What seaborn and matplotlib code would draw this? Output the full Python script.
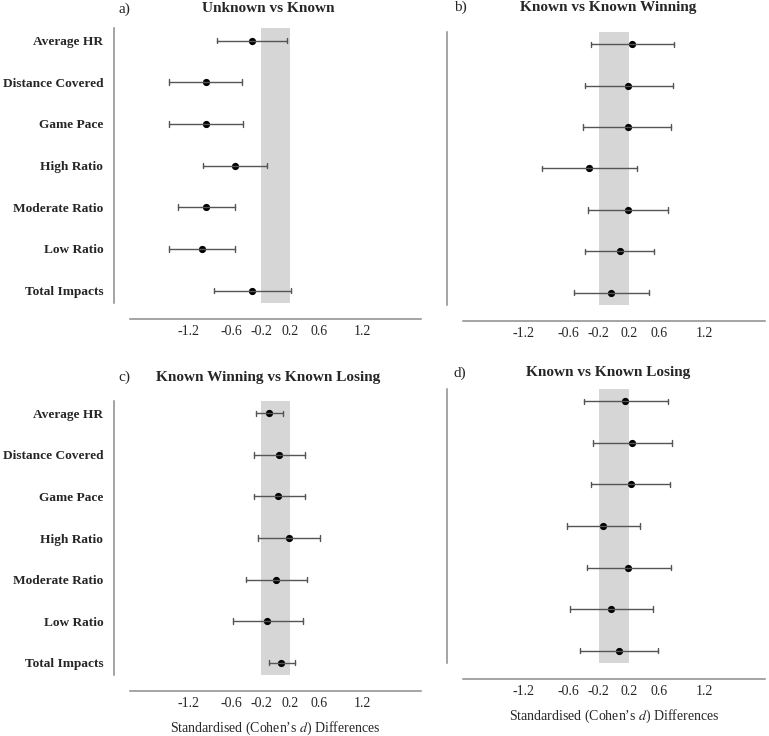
import pandas as pd
import matplotlib.pyplot as plt
import seaborn as sns

sns.set_style("white")
plt.rcParams['font.family'] = ['Liberation Serif', 'DejaVu Serif']
plt.rcParams['mathtext.fontset'] = 'stix'

features = ['Average HR', 'Distance Covered', 'Game Pace', 'High Ratio',
            'Moderate Ratio', 'Low Ratio', 'Total Impacts']

# Cohen's d with 95% CI
a_est = [-0.32, -0.96, -0.96, -0.56, -0.95, -1.01, -0.32]
a_lo = [-0.80, -1.47, -1.46, -0.99, -1.34, -1.47, -0.84]
a_hi = [0.16, -0.46, -0.45, -0.12, -0.56, -0.56, 0.21]

b_est = [0.24, 0.19, 0.18, -0.33, 0.19, 0.08, -0.04]
b_lo = [-0.31, -0.39, -0.41, -0.95, -0.34, -0.38, -0.53]
b_hi = [0.80, 0.78, 0.76, 0.30, 0.71, 0.53, 0.47]

c_est = [-0.09, 0.05, 0.04, 0.19, 0.01, -0.11, 0.08]
c_lo = [-0.27, -0.30, -0.30, -0.24, -0.41, -0.59, -0.09]
c_hi = [0.10, 0.40, 0.40, 0.61, 0.43, 0.38, 0.27]

d_est = [0.15, 0.24, 0.22, -0.14, 0.19, -0.04, 0.06]
d_lo = [-0.40, -0.28, -0.30, -0.62, -0.36, -0.58, -0.45]
d_hi = [0.72, 0.77, 0.74, 0.34, 0.76, 0.52, 0.58]

x_ticks = [-1.2, -0.6, -0.2, 0.2, 0.6, 1.2]

panels = [
    ('a)', 'Unknown vs Known', a_est, a_lo, a_hi),
    ('b)', 'Known vs Known Winning', b_est, b_lo, b_hi),
    ('c)', 'Known Winning vs Known Losing', c_est, c_lo, c_hi),
    ('d)', 'Known vs Known Losing', d_est, d_lo, d_hi),
]

W, H = 769, 736
# axes boxes in pixels: left, top, right, bottom
boxes = [(130, 28, 421, 303), (463, 32, 765, 305),
         (130, 401, 421, 675), (463, 389, 765, 663)]
title_pos = [(268, 9), (608, 7), (268, 377), (608, 373)]
tag_pos = [(124, 9), (460, 7), (124, 377), (460, 373)]

fig = plt.figure(figsize=(W / 100, H / 100), dpi=100)

for i, (tag, title, est, lo, hi) in enumerate(panels):
    l, t, r, b = boxes[i]
    ax = fig.add_axes([l / W, 1 - b / H, (r - l) / W, (b - t) / H])

    # long form: median of (lo, est, hi) is the estimate, min/max the CI
    df = pd.DataFrame({
        'feature': features * 3,
        'value': list(lo) + list(est) + list(hi),
    })
    ax.axvspan(-0.2, 0.2, color='#d6d6d6', lw=0, zorder=0)
    sns.pointplot(data=df, x='value', y='feature', order=features, ax=ax,
                  estimator='median', errorbar=lambda v: (v.min(), v.max()),
                  capsize=0.13, linestyle='none', marker='o', color='black',
                  markersize=5.2, markeredgewidth=0,
                  err_kws={'color': '#555555', 'linewidth': 1.0})

    # despine with offset resets the ticks, so do it before styling them
    sns.despine(ax=ax, offset=11.5)
    for s in ['left', 'bottom']:
        ax.spines[s].set_color('#8c8c8c')
        ax.spines[s].set_linewidth(1.1)

    ax.set_xlim(-2, 2)
    ax.set_ylim(6.3, -0.3)
    ax.set_xticks(x_ticks)
    ax.set_xticklabels([f'{v:.1f}' for v in x_ticks], fontsize=10)
    ax.tick_params(axis='x', length=0, pad=4)
    ax.tick_params(axis='y', direction='inout', length=5, width=0.8,
                   color='#666666', pad=5.2)
    ax.set_yticks(range(len(features)))
    if i % 2 == 0:
        ax.set_yticklabels(features, fontsize=9.6, fontweight='bold')
    else:
        ax.set_yticklabels([])
    ax.set_ylabel('')
    if i >= 2:
        ax.set_xlabel('Standardised (Cohen\u2019s $d$) Differences',
                      fontsize=10, labelpad=7)
    else:
        ax.set_xlabel('')

    tx, ty = title_pos[i]
    fig.text(tx / W, 1 - ty / H, title, ha='center', va='center',
             fontsize=11, fontweight='bold')
    gx, gy = tag_pos[i]
    fig.text(gx / W, 1 - gy / H, tag, ha='center', va='center', fontsize=11)

fig.savefig('out.png', dpi=100)
